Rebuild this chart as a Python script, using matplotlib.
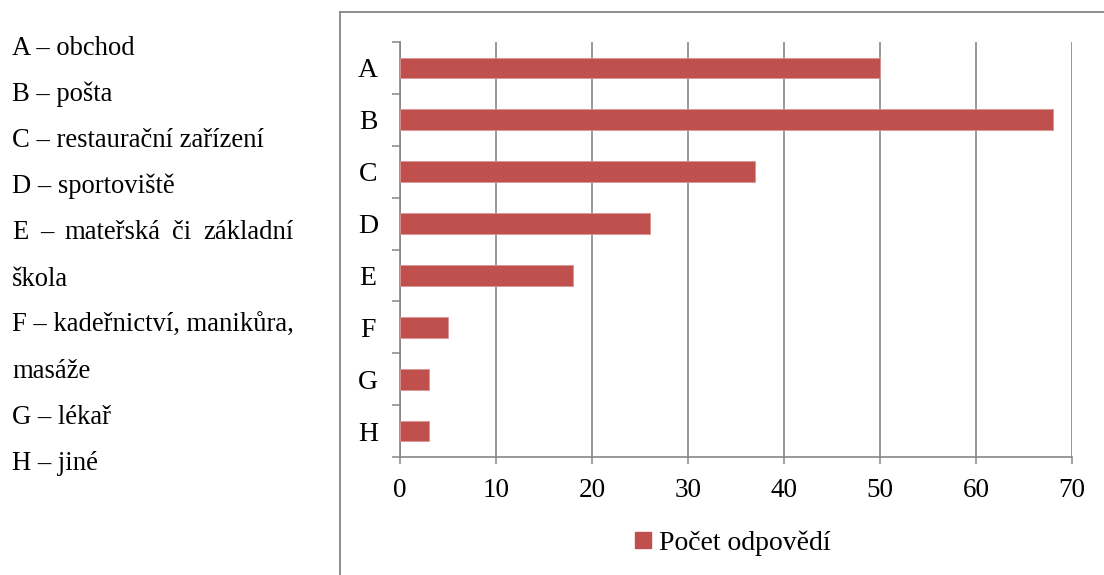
import matplotlib
matplotlib.use("Agg")
import matplotlib.pyplot as plt
from matplotlib.lines import Line2D
from matplotlib.patches import Patch

# Data
categories = ["A", "B", "C", "D", "E", "F", "G", "H"]
counts = [50, 68, 37, 26, 18, 5, 3, 3]
series_name = "Počet odpovědí"
x_ticks = [0, 10, 20, 30, 40, 50, 60, 70]

key_lines = [
    "A – obchod",
    "B – pošta",
    "C – restaurační zařízení",
    "D – sportoviště",
    "E – mateřská či základní",
    "škola",
    "F – kadeřnictví, manikůra,",
    "masáže",
    "G – lékař",
    "H – jiné",
]
justified_index = 4  # this line is spread to the full column width

BAR = "#C0504D"
GRID = "#868686"
SERIF = ["Liberation Serif", "DejaVu Serif"]
plt.rcParams["font.family"] = SERIF

W, H = 1104, 575
fig = plt.figure(figsize=(W / 100, H / 100), dpi=100)


def fx(px):
    return px / W


def fy(py):
    return 1 - py / H


# Chart frame (extends past the figure edges on the right and bottom)
fig.add_artist(Line2D([fx(340), fx(340)], [fy(12), -0.1], color=GRID, lw=1.3,
                      transform=fig.transFigure))
fig.add_artist(Line2D([fx(340), 1.1], [fy(12), fy(12)], color=GRID, lw=1.3,
                      transform=fig.transFigure))

ax = fig.add_axes([fx(400), fy(457), fx(1072) - fx(400), fy(42) - fy(457)])
ypos = list(range(len(categories)))
ax.barh(ypos, counts, height=0.4, color=BAR, edgecolor="#D99694", linewidth=0.6,
        zorder=3, label=series_name)

ax.set_xlim(0, 70)
ax.set_ylim(len(categories) - 0.5, -0.5)
ax.set_xticks(x_ticks)
ax.set_xticklabels([str(v) for v in x_ticks], fontsize=19.5)
ax.set_yticks(ypos)
ax.set_yticklabels(categories, fontsize=20)
for lbl in ax.get_yticklabels():
    lbl.set_horizontalalignment("center")
ax.set_yticks([i - 0.5 for i in range(len(categories) + 1)], minor=True)

ax.tick_params(axis="y", which="major", length=0, pad=23)
ax.tick_params(axis="y", which="minor", length=6, width=1.1, color=GRID, direction="out")
ax.tick_params(axis="x", which="major", length=5, width=1.1, color=GRID, pad=10,
               direction="out")

ax.grid(axis="x", color=GRID, lw=1.2, zorder=0)
ax.set_axisbelow(True)
for side in ("top", "right"):
    ax.spines[side].set_visible(False)
for side in ("left", "bottom"):
    ax.spines[side].set_color(GRID)
    ax.spines[side].set_linewidth(1.2)

fig.legend(handles=[Patch(facecolor=BAR, edgecolor=BAR, label=series_name)],
           loc="center", bbox_to_anchor=(fx(733), fy(543)), frameon=False,
           fontsize=20, handlelength=0.55, handleheight=0.55, handletextpad=0.3)

# Key of category letters on the left
base0, step = 55, 46.1
left_px, right_px = 12, 293
key_size = 19.2
renderer = fig.canvas.get_renderer()
for i, line in enumerate(key_lines):
    y = fy(base0 + i * step)
    if i != justified_index:
        fig.text(fx(left_px), y, line, fontsize=key_size, va="baseline", ha="left")
        continue
    # justified: measure words, share the free space evenly between them
    words = line.split(" ")
    arts = [fig.text(0, y, w, fontsize=key_size, va="baseline", ha="left") for w in words]
    widths = [a.get_window_extent(renderer).width for a in arts]
    gap = (right_px - left_px - sum(widths)) / (len(words) - 1)
    x = left_px
    for a, w in zip(arts, widths):
        a.set_x(fx(x))
        x += w + gap

fig.savefig("out.png", dpi=100)
